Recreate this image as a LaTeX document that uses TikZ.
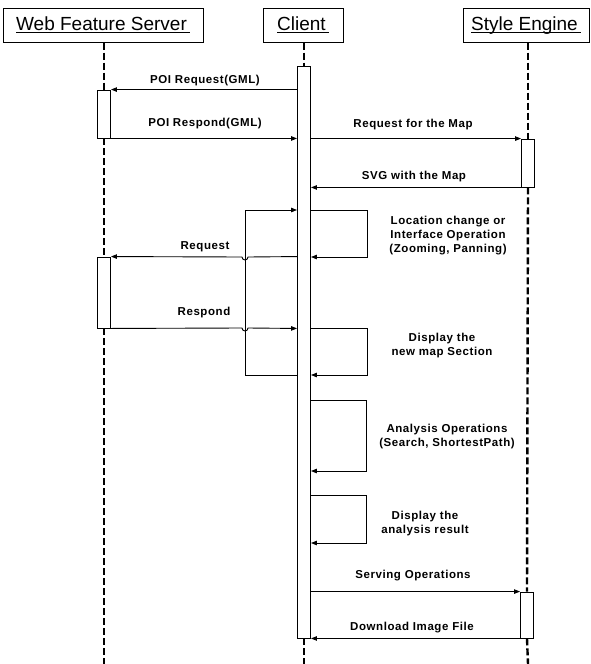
\documentclass[tikz,border=0pt]{standalone}
\usepackage{fontspec}
\setmainfont{Liberation Sans}
\newfontfamily\lblfont[LetterSpace=5]{Liberation Sans Bold}
\usetikzlibrary{arrows.meta}
\newcommand\hdrtext[1]{\underline{\smash{#1}\hspace{3pt}}}
\tikzset{
  hdr/.style={draw, line width=1pt, minimum height=34pt, inner sep=0pt, text height=13pt, text depth=2pt, font=\fontsize{19}{21}\selectfont},
  actbar/.style={draw, fill=white, line width=0.9pt, minimum width=13pt, inner sep=0pt},
  life/.style={line width=2.4pt, dash pattern=on 7pt off 3pt},
  msg/.style={line width=0.9pt, -{Triangle[length=6pt,width=4.5pt]}},
  lbl/.style={font=\lblfont\fontsize{11.5}{14}\selectfont, inner sep=0pt, align=center}
}
\begin{document}
\begin{tikzpicture}[x=1pt,y=-1pt]
\useasboundingbox (0,0) rectangle (590,664);
% headers
\node[hdr, minimum width=200pt] (wfs) at (103,25) {\hdrtext{Web Feature Server}};
\node[hdr, minimum width=80pt] (cli) at (303,25) {\hdrtext{Client}};
\node[hdr, minimum width=126pt] (sty) at (526,25) {\hdrtext{Style Engine}};
% lifeline end points
\coordinate (wend) at (104,664);
\coordinate (cend) at (304,664);
\coordinate (send) at (528,664);
% activation bars
\node[actbar, minimum height=572pt] (cbar) at (304,352) {};
\node[actbar, minimum height=48pt] (w1) at (104,114) {};
\node[actbar, minimum height=71pt] (w2) at (104,292.5) {};
\node[actbar, minimum height=48pt] (s1) at (528,163) {};
\node[actbar, minimum height=46pt] (s2) at (527,615) {};
% lifelines
\draw[life] (wfs.south -| w1.north) -- (w1.north);
\draw[life] (w1.south) -- (w2.north);
\draw[life] (w2.south) -- (wend);
\draw[life] (cli.south -| cbar.north) -- (cbar.north);
\draw[life] (cbar.south) -- (cend);
\draw[life] (sty.south -| s1.north) -- (s1.north);
\draw[life] (s1.south) -- (s2.north);
\draw[life] (s2.south) -- (send);
% messages
\draw[msg] (cbar.west |- w1.north) -- (w1.north east);
\node[lbl] (m1) at (205,81) {POI Request(GML)};
\draw[msg] (w1.south east) -- (cbar.west |- w1.south);
\node[lbl] (m2) at (205,124) {POI Respond(GML)};
\draw[msg] (cbar.east |- s1.north) -- (s1.north west);
\node[lbl] (m3) at (413,125) {Request for the Map};
\draw[msg] (s1.south west) -- (cbar.east |- s1.south);
\node[lbl] (m4) at (414,177) {SVG with the Map};
% self loop 1 (location change)
\coordinate (L1a) at (245,210);
\coordinate (L1b) at (245,375);
\coordinate (L1c) at (367,210);
\coordinate (L1d) at (367,257);
\draw[msg] (cbar.west |- L1b) -- (L1b) -- (L1a) -- (cbar.west |- L1a);
\draw[msg] (cbar.east |- L1a) -- (L1c) -- (L1d) -- (cbar.east |- L1d);
\node[lbl] (m5) at (448,236) {Location change or\\Interface Operation\\(Zooming, Panning)};
% request / respond with line hops
\coordinate (H1) at (248,257);
\coordinate (H2) at (242,328);
\draw[msg] (cbar.west |- w2.north) -- (H1) arc[start angle=0, end angle=-180, radius=3pt] -- (w2.north east);
\node[lbl] (m6) at (205,247) {Request};
\draw[msg] (w2.south east) -- (H2) arc[start angle=180, end angle=360, radius=3pt] -- (cbar.west |- w2.south);
\node[lbl] (m7) at (204,313) {Respond};
% self loop 2
\coordinate (L2a) at (367,328);
\coordinate (L2b) at (367,375);
\draw[msg] (cbar.east |- L2a) -- (L2a) -- (L2b) -- (cbar.east |- L2b);
\node[lbl] (m8) at (442,346) {Display the\\new map Section};
% self loop 3
\coordinate (L3a) at (366,400);
\coordinate (L3b) at (366,471);
\draw[msg] (cbar.east |- L3a) -- (L3a) -- (L3b) -- (cbar.east |- L3b);
\node[lbl] (m9) at (447,437) {Analysis Operations\\(Search, ShortestPath)};
% self loop 4
\coordinate (L4a) at (366,495);
\coordinate (L4b) at (366,543);
\draw[msg] (cbar.east |- L4a) -- (L4a) -- (L4b) -- (cbar.east |- L4b);
\node[lbl] (m10) at (425,524) {Display the\\analysis result};
% serving / download
\draw[msg] (cbar.east |- s2.north) -- (s2.north west);
\node[lbl] (m11) at (413,576) {Serving Operations};
\draw[msg] (s2.south west) -- (cbar.east |- s2.south);
\node[lbl] (m12) at (412,628) {Download Image File};
\end{tikzpicture}
\end{document}
